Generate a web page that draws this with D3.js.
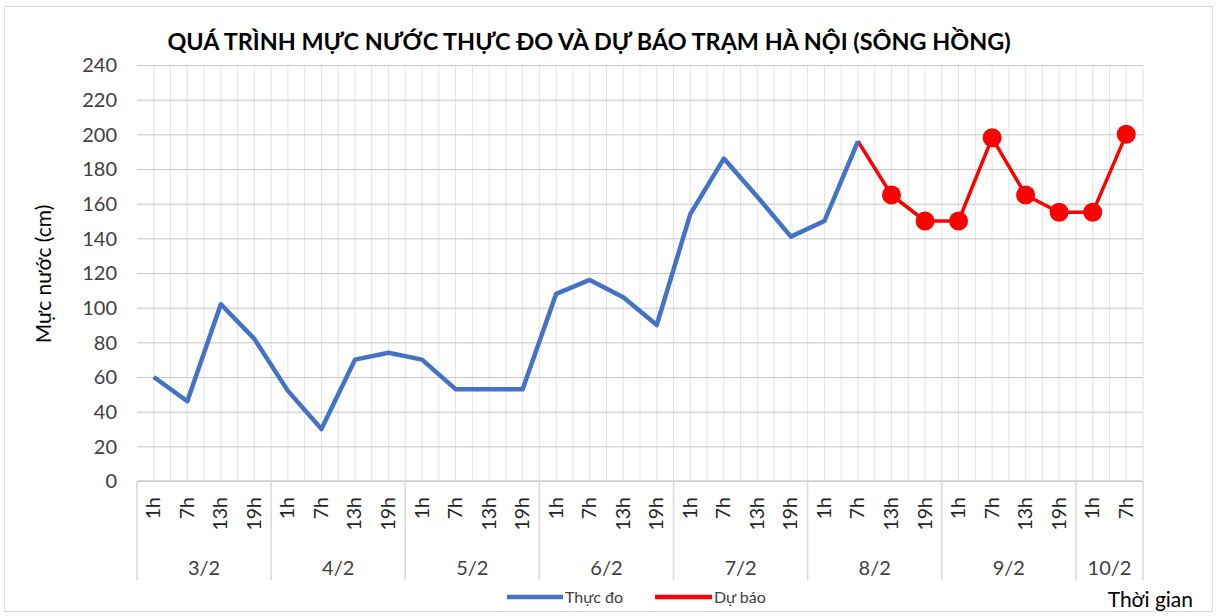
<!DOCTYPE html>
<html>
<head>
<meta charset="utf-8">
<script src="https://cdn.jsdelivr.net/npm/d3@7"></script>
<style>
html,body{margin:0;padding:0;background:#fff;}
svg{display:block;}
text{font-family:Lato,"Open Sans",sans-serif;fill:#404040;}
</style>
</head>
<body>
<svg id="chart" width="1217" height="616"></svg>
<script>
// ---- data ----
const dates = ["3/2","4/2","5/2","6/2","7/2","8/2","9/2","10/2"];
const hoursFull = ["1h","7h","13h","19h"];
const hoursLast = ["1h","7h"];
const observed = [60,46,102,82,52,30,70,74,70,53,53,53,108,116,106,90,154,186,164,141,150,196];
const forecast = [null,null,null,null,null,null,null,null,null,null,null,null,null,null,null,null,null,null,null,null,null,196,165,150,150,198,165,155,155,200];
const yTicks = [0,20,40,60,80,100,120,140,160,180,200,220,240];
const title = "QUÁ TRÌNH MỰC NƯỚC THỰC ĐO VÀ DỰ BÁO TRẠM HÀ NỘI (SÔNG HỒNG)";
const yTitle = "Mực nước (cm)";
const xTitle = "Thời gian";
const seriesNames = ["Thực đo","Dự báo"];

// categories built from dates/hours
const cats = [];
dates.forEach((d,i)=>{
  const hs = i===dates.length-1 ? hoursLast : hoursFull;
  hs.forEach(h=>cats.push({date:d,hour:h,key:d+"|"+h}));
});

const svg = d3.select("#chart");
const L=137, R=1143, T=65, B=481;

// outer border
svg.append("rect").attr("x",4.5).attr("y",6.5).attr("width",1208).attr("height",605)
  .attr("fill","#fff").attr("stroke","#d9d9d9");

const x = d3.scaleBand().domain(cats.map(c=>c.key)).range([L,R]).padding(0);
const y = d3.scaleLinear().domain([0,240]).range([B,T]);
const bw = x.bandwidth();

// vertical gridlines at category boundaries and centers
const vg = svg.append("g");
cats.forEach((c,i)=>{
  const x0 = x(c.key);
  [x0, x0+bw/2].forEach((xx,j)=>{
    if(i===0 && j===0) return;
    vg.append("line").attr("x1",xx).attr("x2",xx).attr("y1",T).attr("y2",B)
      .attr("stroke","#e3e3e3").attr("stroke-width",1);
  });
});
vg.append("line").attr("x1",R).attr("x2",R).attr("y1",T).attr("y2",B).attr("stroke","#e3e3e3");

// horizontal gridlines + y labels
const yAxis = d3.axisLeft(y).tickValues(yTicks).tickSize(-(R-L)).tickPadding(20);
const gy = svg.append("g").attr("transform",`translate(${L},0)`).call(yAxis);
gy.select(".domain").remove();
gy.selectAll(".tick line").attr("stroke","#c6c6c6").attr("stroke-width",1);
gy.selectAll(".tick text").attr("font-size",20).attr("fill","#404040")
  .attr("font-family","Lato, 'Open Sans', sans-serif").attr("dy","0.34em");

// x axis line
svg.append("line").attr("x1",L).attr("x2",R).attr("y1",B).attr("y2",B).attr("stroke","#d0d0d0").attr("stroke-width",1.5);

// hour labels
const gx = svg.append("g");
cats.forEach(c=>{
  const cx = x(c.key)+bw/2;
  gx.append("text").attr("transform",`translate(${cx+6.5},497) rotate(-90)`)
    .attr("text-anchor","end").attr("font-size",19.5).style("fill","#262626").text(c.hour);
});

// date group separators and labels
let idx=0;
dates.forEach((d,i)=>{
  const n = i===dates.length-1 ? hoursLast.length : hoursFull.length;
  const x0 = x(cats[idx].key);
  const x1 = x(cats[idx+n-1].key)+bw;
  gx.append("line").attr("x1",x0).attr("x2",x0).attr("y1",B).attr("y2",580).attr("stroke","#d9d9d9").attr("stroke-width",1.5);
  if(i===dates.length-1) gx.append("line").attr("x1",x1).attr("x2",x1).attr("y1",B).attr("y2",580).attr("stroke","#d9d9d9").attr("stroke-width",1.5);
  gx.append("text").attr("x",(x0+x1)/2).attr("y",575).attr("text-anchor","middle").attr("font-size",20).text(d);
  idx+=n;
});

// lines
const line = d3.line().defined(d=>d.v!=null).x(d=>x(d.k)+bw/2).y(d=>y(d.v));
const obsData = observed.map((v,i)=>({k:cats[i].key,v}));
const fcData = forecast.map((v,i)=>({k:cats[i].key,v}));
svg.append("path").datum(fcData).attr("d",line).attr("fill","none").attr("stroke","#ff0000").attr("stroke-width",3.5).attr("stroke-linejoin","round");
svg.append("path").datum(obsData).attr("d",line).attr("fill","none").attr("stroke","#4472c4").attr("stroke-width",4.5).attr("stroke-linejoin","round");
const firstFc = forecast.findIndex(v=>v!=null);
svg.append("g").selectAll("circle").data(fcData.filter((d,i)=>d.v!=null && i>firstFc)).join("circle")
  .attr("cx",d=>x(d.k)+bw/2).attr("cy",d=>y(d.v)).attr("r",9.5).attr("fill","#ff0000");

// title
svg.append("text").attr("x",589).attr("y",50).attr("text-anchor","middle").attr("font-size",23.4)
  .attr("font-weight","bold").style("fill","#000").text(title);

// y title
svg.append("text").attr("transform","translate(51,274) rotate(-90)").attr("text-anchor","middle")
  .attr("font-size",21).style("fill","#000").text(yTitle);

// x title
svg.append("text").attr("x",1193).attr("y",607).attr("text-anchor","end").attr("font-size",21).style("fill","#000").text(xTitle);

// legend
const lg = svg.append("g");
lg.append("line").attr("x1",507).attr("x2",563).attr("y1",597).attr("y2",597).attr("stroke","#4472c4").attr("stroke-width",4.5);
lg.append("text").attr("x",565).attr("y",603).attr("font-size",16).text(seriesNames[0]);
lg.append("line").attr("x1",655).attr("x2",712).attr("y1",597).attr("y2",597).attr("stroke","#ff0000").attr("stroke-width",4.5);
lg.append("text").attr("x",714).attr("y",603).attr("font-size",16).text(seriesNames[1]);
</script>
</body>
</html>
